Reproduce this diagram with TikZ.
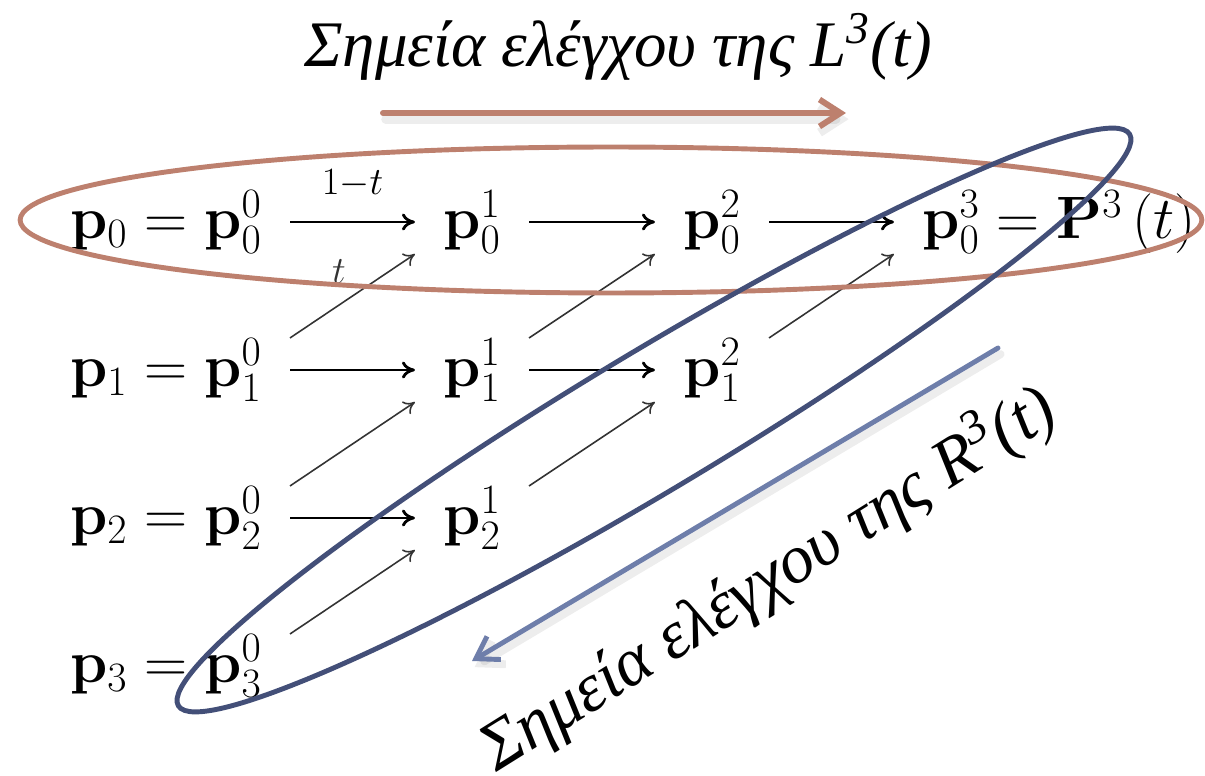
\RequirePackage{fix-cm}
\documentclass[tikz,border=0pt]{standalone}
\usepackage{amsmath}
\usepackage[no-math]{fontspec}
\newfontfamily\grfont{Liberation Serif}
\usepackage{tikz}
\usetikzlibrary{positioning, arrows.meta, calc}

\definecolor{lbrown}{RGB}{189,128,110}
\definecolor{rnavy}{RGB}{67,79,120}
\definecolor{rsteel}{RGB}{110,126,170}

\begin{document}
\begin{tikzpicture}[
    x=0.02cm, y=-0.02cm,
    every node/.style={inner sep=0pt},
    point/.style={font=\fontsize{34}{40}\selectfont, inner xsep=5.6mm, inner ysep=0pt},
    lhs/.style={font=\fontsize{34}{40}\selectfont},
    weight/.style={font=\fontsize{22}{26}\selectfont},
    caption/.style={font=\fontsize{37}{44}\selectfont\grfont\itshape},
    arrow/.style={-{To[length=2.6mm,width=3.4mm]}, black, line width=1.6pt},
    diag/.style={-{To[length=2.2mm,width=3mm]}, black!80, line width=0.9pt},
    Lcurve/.style={draw=lbrown, line width=2.8pt},
    Rcurve/.style={draw=rnavy, line width=2.8pt},
    bigtip/.style={-{Straight Barb[length=4.2mm,width=5.4mm]}, line cap=round},
    shade/.style={black, opacity=0.07, transform canvas={shift={(1.5pt,-3.5pt)}}},
    Larrow/.style={bigtip, lbrown, line width=3.4pt},
    Rarrow/.style={bigtip, rsteel, line width=2.8pt}
]
\useasboundingbox (0,0) rectangle (1205,776);

% Row 0
\node[point] (p00) at (233,222) {$\mathbf{p}_0^0$};
\node[point] (p01) at (472,222) {$\mathbf{p}_0^1$};
\node[point] (p02) at (712,222) {$\mathbf{p}_0^2$};
\node[point] (p03) at (951,222) {$\mathbf{p}_0^3$};
\node[lhs, base left=-5.6mm of p00] (q0) {$\mathbf{p}_0 ={}$};
\node[lhs, base right=-5.6mm of p03] (P3) {${}= \mathbf{P}^3\,(t)$};

% Row 1
\node[point] (p10) at (233,370) {$\mathbf{p}_1^0$};
\node[point] (p11) at (472,370) {$\mathbf{p}_1^1$};
\node[point] (p12) at (712,370) {$\mathbf{p}_1^2$};
\node[lhs, base left=-5.6mm of p10] (q1) {$\mathbf{p}_1 ={}$};

% Row 2
\node[point] (p20) at (233,518) {$\mathbf{p}_2^0$};
\node[point] (p21) at (472,518) {$\mathbf{p}_2^1$};
\node[lhs, base left=-5.6mm of p20] (q2) {$\mathbf{p}_2 ={}$};

% Row 3
\node[point] (p30) at (233,666) {$\mathbf{p}_3^0$};
\node[lhs, base left=-5.6mm of p30] (q3) {$\mathbf{p}_3 ={}$};

% Horizontal arrows (1-t)
\draw[arrow] (p00.east) -- node[weight, above=0.46cm] (w1) {$1{-}t$} (p01.west);
\draw[arrow] (p01.east) -- (p02.west);
\draw[arrow] (p02.east) -- (p03.west);
\draw[arrow] (p10.east) -- (p11.west);
\draw[arrow] (p11.east) -- (p12.west);
\draw[arrow] (p20.east) -- (p21.west);

% Diagonal arrows (t)
\draw[diag] (p10.north east) -- node[weight, above left=0.24cm and 0.12cm] (w2) {$t$} (p01.south west);
\draw[diag] (p11.north east) -- (p02.south west);
\draw[diag] (p12.north east) -- (p03.south west);
\draw[diag] (p20.north east) -- (p11.south west);
\draw[diag] (p21.north east) -- (p12.south west);
\draw[diag] (p30.north east) -- (p21.south west);

% Groups
\coordinate (Lc) at (611,220);
\coordinate (Rc) at (654,420);
\draw[Lcurve] (Lc) ellipse[x radius=11.82cm, y radius=1.46cm];
\draw[Rcurve, rotate around={31:(Rc)}] (Rc) ellipse[x radius=11.1cm, y radius=1.38cm];

% Direction arrows
\coordinate (Ls) at (383,113);
\coordinate (Le) at (846,113);
\coordinate (Rs) at (998,348);
\coordinate (Re) at (472,661);
\draw[Larrow, shade, line width=5pt] (Ls) -- (Le);
\draw[Larrow] (Ls) -- (Le);
\draw[Rarrow, shade, line width=4.5pt] (Rs) -- (Re);
\draw[Rarrow] (Rs) -- (Re);

% Captions
\node[caption, anchor=base] (capL) at (618,67) {Σημεία ελέγχου της L\textsuperscript{3}(t)};
\node[caption, rotate=32, anchor=base west, font=\fontsize{39}{46}\selectfont\grfont\itshape] (capR) at (496,773) {Σημεία ελέγχου της R\textsuperscript{3}(t)};

\end{tikzpicture}
\end{document}
